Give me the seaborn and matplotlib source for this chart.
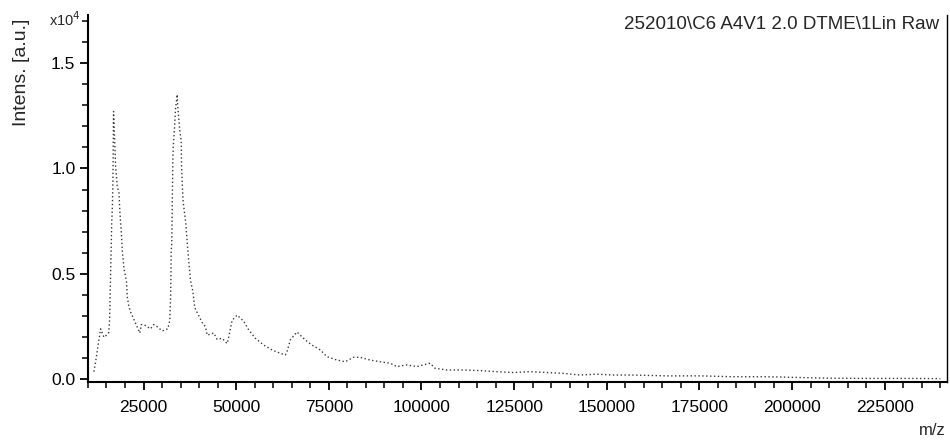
import matplotlib
matplotlib.use("Agg")
import matplotlib.pyplot as plt
from matplotlib.ticker import MultipleLocator, FormatStrFormatter
import seaborn as sns
import pandas as pd

# Linear-mode MALDI spectrum, intensity in units of 10^4
mz = [11610, 12070, 12800, 13420, 14300, 15000, 15570, 15840, 15950, 16110,
      16250, 16400, 16570, 16700, 16800, 16850, 16900, 17460, 17920, 18350,
      18620, 18990, 19260, 19690, 20420, 20610, 21040, 21500, 24000, 24380,
      25080, 26890, 27770, 28690, 30040, 31550, 32090, 32200, 32300, 32400,
      32460, 32600, 32700, 32800, 32900, 33000, 33350, 33620, 34080, 34240,
      34780, 35160, 35240, 35430, 35700, 36400, 36770, 37200, 37660, 38280,
      38820, 40810, 41700, 42160, 43940, 44860, 46200, 47550, 47980, 48440,
      48890, 50240, 52020, 53370, 55170, 57410, 59670, 61910, 63250, 63710,
      64600, 66400, 68640, 70450, 72680, 74490, 77180, 79420, 81650, 83460,
      86150, 88850, 91540, 93340, 96040, 98730, 102320, 103660, 106820, 111290,
      115780, 120280, 124760, 129260, 133760, 138230, 142730, 147230, 151700, 157000,
      166080, 175060, 184020, 193030, 200190, 210000, 220000, 230000, 240000]
intensity = [0.037, 0.084, 0.17, 0.24, 0.20, 0.21, 0.22, 0.28, 0.37, 0.50,
             0.61, 0.74, 0.81, 0.91, 1.06, 1.18, 1.27, 1.01, 0.91, 0.89,
             0.79, 0.70, 0.61, 0.53, 0.46, 0.39, 0.345, 0.32, 0.22, 0.26,
             0.26, 0.24, 0.26, 0.25, 0.23, 0.24, 0.28, 0.345, 0.39, 0.51,
             0.61, 0.64, 0.76, 0.90, 1.04, 1.10, 1.19, 1.28, 1.35, 1.29,
             1.18, 1.13, 1.02, 0.93, 0.84, 0.74, 0.65, 0.56, 0.47, 0.42,
             0.34, 0.27, 0.25, 0.21, 0.22, 0.19, 0.195, 0.17, 0.20, 0.24,
             0.28, 0.305, 0.276, 0.235, 0.195, 0.163, 0.14, 0.124, 0.116, 0.132,
             0.187, 0.225, 0.187, 0.163, 0.14, 0.108, 0.092, 0.084, 0.105, 0.105,
             0.092, 0.084, 0.077, 0.061, 0.069, 0.061, 0.077, 0.053, 0.045, 0.045,
             0.042, 0.037, 0.033, 0.037, 0.033, 0.029, 0.021, 0.025, 0.021, 0.021,
             0.017, 0.017, 0.013, 0.013, 0.010, 0.006, 0.005, 0.005, 0.004]

x_ticks = [25000, 50000, 75000, 100000, 125000, 150000, 175000, 200000, 225000]
y_ticks = [0.0, 0.5, 1.0, 1.5]

sns.set_theme(style="ticks")
plt.rcParams["font.family"] = ["Liberation Sans", "DejaVu Sans"]

df = pd.DataFrame({"mz": mz, "intensity": intensity})

fig = plt.figure(figsize=(9.5, 4.43), dpi=100)
ax = fig.add_axes([0.0926, 0.1377, 0.9042, 0.8285])

sns.lineplot(data=df, x="mz", y="intensity", ax=ax, color="#3a3a3a",
             linewidth=1.0, linestyle=(0, (1, 1.8)), estimator=None, sort=True)

ax.set_xlim(10000, 241800)
ax.set_ylim(-0.012, 1.727)
ax.set_xticks(x_ticks)
ax.set_yticks(y_ticks)
ax.xaxis.set_minor_locator(MultipleLocator(5000))
ax.yaxis.set_minor_locator(MultipleLocator(0.1))
ax.yaxis.set_major_formatter(FormatStrFormatter("%.1f"))
ax.set_xlabel("")
ax.set_ylabel("")

ax.tick_params(axis="both", which="major", direction="out", length=6, width=1.3,
               color="black", labelsize=12.5, labelcolor="black", pad=3)
ax.tick_params(axis="x", which="major", pad=7)
ax.tick_params(axis="both", which="minor", direction="out", length=4, width=1.1,
               color="black")

for side in ("left", "bottom", "right"):
    ax.spines[side].set_color("black")
    ax.spines[side].set_linewidth(1.5)
ax.spines["right"].set_linewidth(1.0)
ax.spines["top"].set_visible(False)

fig.text(0.023, 0.837, "Intens. [a.u.]", rotation=90, ha="center", va="center",
         fontsize=14)
fig.text(0.085, 0.956, "x10$^4$", ha="right", va="center", fontsize=10.5)
fig.text(0.989, 0.944, "252010\\C6 A4V1 2.0 DTME\\1Lin Raw", ha="right",
         va="center", fontsize=13.5)
fig.text(0.995, 0.028, "m/z", ha="right", va="center", fontsize=12)

fig.savefig("out.png", dpi=100, facecolor="white")
